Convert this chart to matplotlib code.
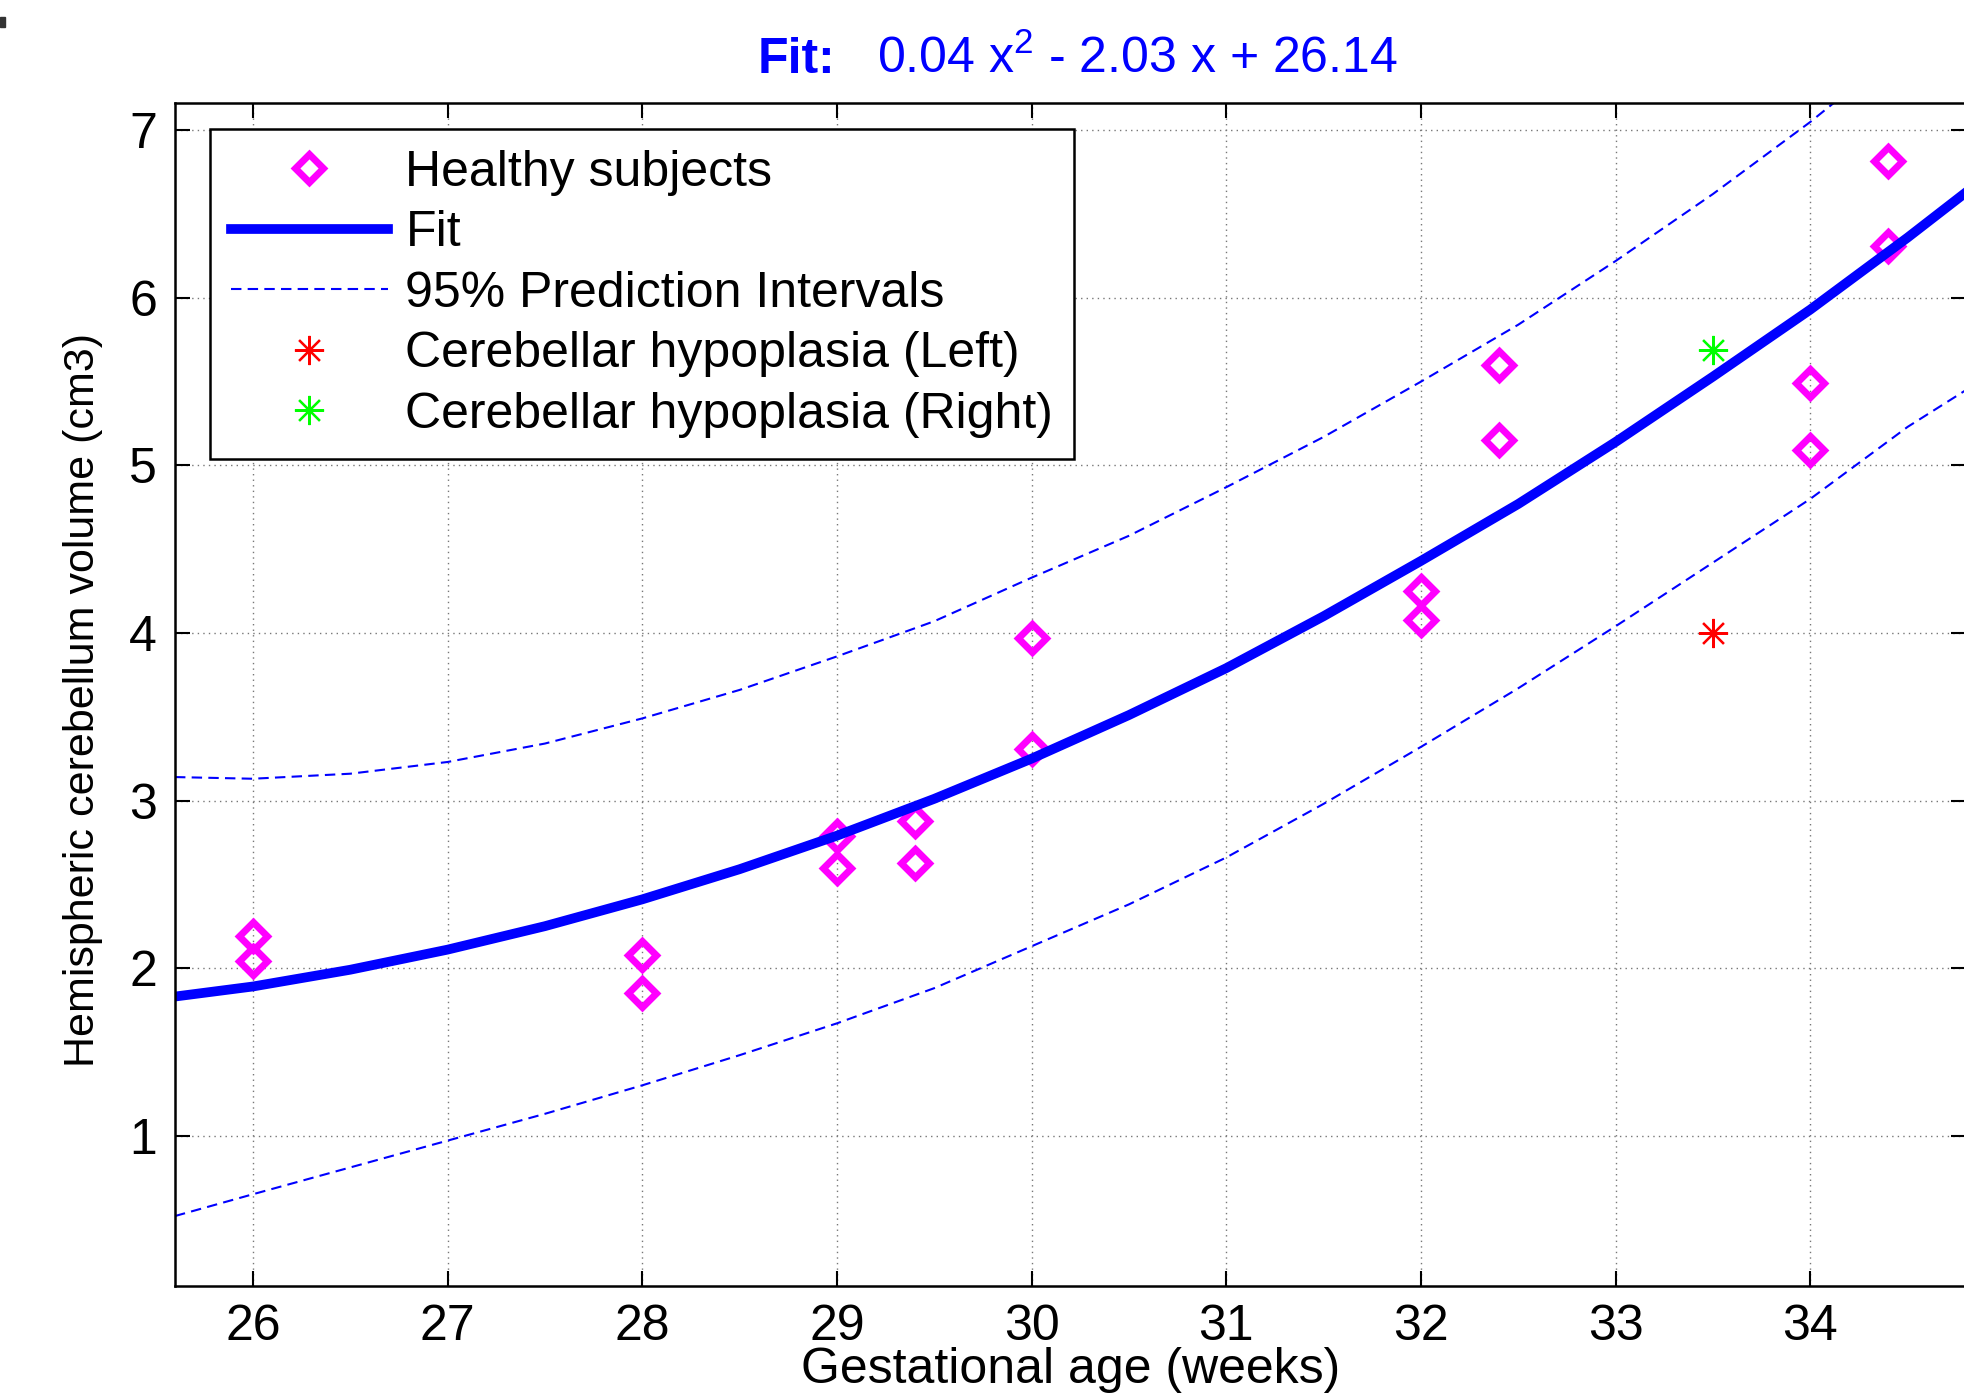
import numpy as np
import matplotlib
matplotlib.use("Agg")
import matplotlib.pyplot as plt
from matplotlib.patches import Rectangle

plt.rcParams['font.family'] = ['Liberation Sans', 'DejaVu Sans']
plt.rcParams['mathtext.fontset'] = 'custom'
plt.rcParams['mathtext.rm'] = 'Liberation Sans'
plt.rcParams['mathtext.bf'] = 'Liberation Sans:bold'

# healthy subjects (gestational age, hemispheric cerebellum volume)
healthy_age = [26, 26, 28, 28, 29, 29, 29.4, 29.4, 30, 30,
               32, 32, 32.4, 32.4, 34, 34, 34.4, 34.4]
healthy_vol = [2.19, 2.04, 2.08, 1.85, 2.79, 2.60, 2.88, 2.63, 3.97, 3.31,
               4.25, 4.08, 5.60, 5.15, 5.49, 5.09, 6.82, 6.31]

# hypoplasia case
hypo_age = [33.5]
hypo_left = [4.00]
hypo_right = [5.69]

# fit curve and 95% prediction intervals
curve_age = [25.6, 26, 26.5, 27, 27.5, 28, 28.5, 29, 29.5, 30, 30.5,
             31, 31.5, 32, 32.5, 33, 33.5, 34, 34.5, 34.8]
fit_vol = [1.83, 1.89, 1.99, 2.11, 2.25, 2.41, 2.59, 2.79, 3.01, 3.25, 3.51,
           3.79, 4.10, 4.43, 4.77, 5.14, 5.53, 5.93, 6.36, 6.63]
pi_upper = [3.14, 3.13, 3.16, 3.23, 3.34, 3.49, 3.66, 3.86, 4.07, 4.33, 4.58,
            4.87, 5.17, 5.50, 5.84, 6.22, 6.62, 7.05, 7.52, 7.82]
pi_lower = [0.52, 0.65, 0.81, 0.97, 1.13, 1.30, 1.48, 1.67, 1.88, 2.13, 2.38,
            2.66, 2.98, 3.32, 3.67, 4.04, 4.42, 4.80, 5.23, 5.45]

x_ticks = [26, 27, 28, 29, 30, 31, 32, 33, 34]
y_ticks = [1, 2, 3, 4, 5, 6, 7]

FS = 36
BLUE = (0, 0, 1)

fig = plt.figure(figsize=(19.64, 13.95), dpi=100)
ax = fig.add_axes([175 / 1964, 1 - 1286.4 / 1395, (1966 - 175) / 1964, (1286.4 - 102.7) / 1395])

ax.plot(healthy_age, healthy_vol, linestyle='none', marker='D', markersize=14,
        markerfacecolor='none', markeredgecolor=(1, 0, 1), markeredgewidth=5,
        label='Healthy subjects')
ax.plot(curve_age, fit_vol, color=BLUE, linewidth=7, label='Fit')
ax.plot(curve_age, pi_upper, color=BLUE, linewidth=1.5, dashes=(5, 3),
        label='95% Prediction Intervals')
ax.plot(curve_age, pi_lower, color=BLUE, linewidth=1.5, dashes=(5, 3))
ax.plot(hypo_age, hypo_left, linestyle='none', marker=(8, 2, 0), markersize=21,
        markeredgecolor=(1, 0, 0), markeredgewidth=1.6,
        label='Cerebellar hypoplasia (Left)')
ax.plot(hypo_age, hypo_right, linestyle='none', marker=(8, 2, 0), markersize=21,
        markeredgecolor=(0, 1, 0), markeredgewidth=1.6,
        label='Cerebellar hypoplasia (Right)')

ax.set_xlim(25.6, 34.8)
ax.set_ylim(0.1, 7.165)
ax.set_xticks(x_ticks)
ax.set_yticks(y_ticks)
ax.grid(True, color='#777777', linestyle=(0, (1, 3)), linewidth=1.0)
ax.tick_params(direction='in', length=11, width=1.5, top=True, right=True,
               labelsize=FS)
ax.tick_params(axis='x', pad=13)
ax.tick_params(axis='y', pad=13)
for sp in ax.spines.values():
    sp.set_linewidth(1.8)

ax.set_xlabel('Gestational age (weeks)', fontsize=FS)
ax.xaxis.set_label_coords(0.5, -0.051)
ax.set_ylabel('Hemispheric cerebellum volume (cm3)', fontsize=31)
ax.yaxis.set_label_coords(-0.040, 0.495)

# title: bold "Fit:" followed by the polynomial
ax.text(0.3255, 1.025, 'Fit:', transform=ax.transAxes, color=BLUE,
        fontsize=FS, fontweight='bold', ha='left', va='baseline')
ax.text(0.392, 1.025, r'0.04 x$^{2}$ - 2.03 x + 26.14', transform=ax.transAxes,
        color=BLUE, fontsize=FS, ha='left', va='baseline')

leg = ax.legend(loc='upper left', bbox_to_anchor=(0.0195, 0.978), borderaxespad=0,
                fontsize=FS, handlelength=3.14, handletextpad=0.35, labelspacing=0.29,
                borderpad=0.42, fancybox=False, framealpha=1, edgecolor='black')
leg.get_frame().set_linewidth(1.8)

# small mark left at the top-left corner of the crop
fig.add_artist(Rectangle((0, 1 - 27 / 1395), 5 / 1964, 10 / 1395,
                         transform=fig.transFigure, color='#333333'))

fig.savefig('out.png', dpi=100)
